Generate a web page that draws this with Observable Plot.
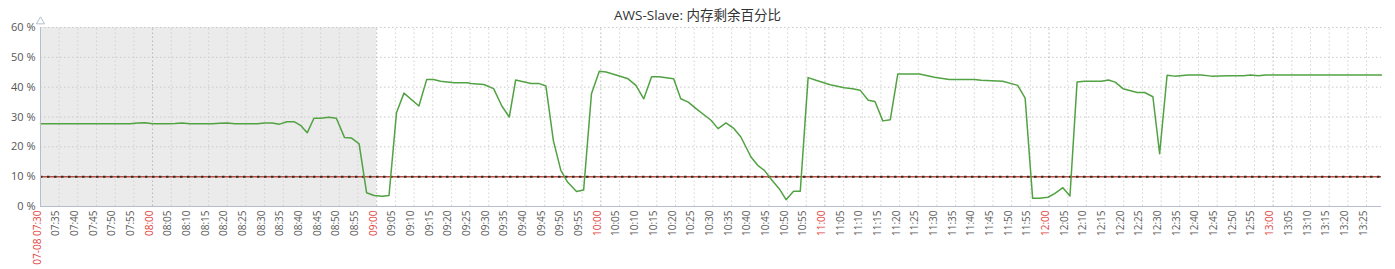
<!DOCTYPE html>
<html><head><meta charset="utf-8">
<script src="https://cdn.jsdelivr.net/npm/d3@7"></script>
<script src="https://cdn.jsdelivr.net/npm/@observablehq/plot@0.6"></script>
<style>
body{margin:0;background:#fff;}
#wrap{position:relative;width:1395px;height:269px;}
#title{position:absolute;top:4px;left:0;width:1395px;text-align:center;font:13.5px "Open Sans","Noto Sans CJK SC",sans-serif;color:#333;z-index:2;}
#chart{position:absolute;top:0;left:0;}
</style></head><body>
<div id="wrap"><div id="title">AWS-Slave: 内存剩余百分比</div><div id="chart"></div></div>
<script>
const titleText = "AWS-Slave: 内存剩余百分比";
const times = [
"07:30:00","07:32:00","07:34:00","07:36:00","07:38:00","07:40:00","07:42:00","07:44:00","07:46:00","07:48:00",
"07:50:00","07:52:00","07:54:00","07:56:00","07:58:00","08:00:00","08:02:00","08:04:00","08:06:00","08:08:00",
"08:10:00","08:12:00","08:14:00","08:16:00","08:18:00","08:20:00","08:22:00","08:24:00","08:26:00","08:28:00",
"08:30:00","08:32:00","08:34:00","08:36:00","08:38:00","08:39:36","08:41:24","08:43:12","08:45:00","08:47:12",
"08:49:12","08:51:24","08:53:12","08:55:18","08:57:18","08:59:18","09:01:30","09:03:18","09:05:18","09:07:18",
"09:11:18","09:13:24","09:15:12","09:17:06","09:20:42","09:24:18","09:25:12","09:28:42","09:31:18","09:33:30",
"09:35:30","09:37:12","09:41:18","09:43:30","09:45:18","09:47:18","09:49:18","09:51:06","09:53:30","09:55:24",
"09:57:30","09:59:36","10:01:24","10:05:24","10:07:18","10:09:24","10:11:30","10:13:36","10:15:36","10:19:30",
"10:21:24","10:23:24","10:25:30","10:29:30","10:31:24","10:33:30","10:35:30","10:37:30","10:40:12","10:42:00",
"10:43:48","10:45:30","10:47:48","10:49:36","10:51:36","10:53:24","10:55:30","10:57:36","11:01:24","11:05:12",
"11:07:24","11:09:24","11:11:36","11:13:24","11:15:30","11:17:30","11:19:30","11:25:18","11:29:18","11:33:18",
"11:40:00","11:41:48","11:47:36","11:51:36","11:53:36","11:55:36","11:57:24","11:59:42","12:01:30","12:03:42",
"12:05:36","12:07:30","12:09:30","12:14:00","12:15:54","12:17:42","12:19:48","12:23:36","12:25:36","12:27:48",
"12:29:36","12:31:36","12:33:36","12:37:12","12:40:48","12:43:24","12:48:00","12:52:00","12:54:00","12:56:00",
"12:58:00","13:10:00","13:29:00"
];
const values = [
27.7,27.7,27.7,27.7,27.7,27.7,27.7,27.7,27.7,27.7,
27.7,27.7,27.7,28.0,28.1,27.7,27.7,27.7,27.8,28.0,
27.7,27.7,27.7,27.7,27.9,28.0,27.7,27.7,27.7,27.7,
28.0,28.0,27.6,28.4,28.4,27.2,24.7,29.6,29.6,29.9,
29.6,23.1,23.0,21.0,4.6,3.7,3.4,3.7,31.4,38.0,
33.7,42.6,42.6,42.0,41.5,41.5,41.2,40.9,39.5,33.7,
30.0,42.4,41.2,41.2,40.4,22.1,12.1,8.2,5.0,5.5,
37.8,45.3,45.1,43.6,42.8,40.6,36.1,43.5,43.5,42.8,
36.1,35.0,32.8,28.9,26.1,28.0,26.3,23.3,16.6,13.8,
12.1,9.3,5.9,2.3,5.1,5.1,43.2,42.3,40.8,39.8,
39.5,39.0,35.6,35.2,28.7,29.1,44.4,44.4,43.3,42.6,
42.6,42.3,42.0,40.6,36.3,2.8,2.8,3.1,4.3,6.3,
3.5,41.7,42.0,42.0,42.4,41.7,39.5,38.2,38.2,36.8,
17.7,44.0,43.7,44.1,44.1,43.7,43.8,43.8,44.1,43.8,
44.1,44.1,44.1
];
const yTicks = [0, 10, 20, 30, 40, 50, 60];
const yTickLabels = ["0 %", "10 %", "20 %", "30 %", "40 %", "50 %", "60 %"];
const thresholds = [10];
const shadeStart = ["07:30:00"];
const shadeEnd = ["09:00:00"];
const xDomain = ["07:30:00", "13:29:00"];
const firstTickLabel = "07-08 07:30";

const parse = s => { const [h, m, sec] = s.split(":").map(Number); return new Date(Date.UTC(2000, 0, 8, h, m, sec)); };
const data = times.map((t, i) => ({t: parse(t), v: values[i]}));
const x0 = parse(xDomain[0]), x1 = parse(xDomain[1]);
const ticks = d3.utcMinute.every(5).range(x0, new Date(+x1 + 1));
const fmt = d3.utcFormat("%H:%M");
const tickText = ticks.map((d, i) => i === 0 ? firstTickLabel : fmt(d));
const isRed = (d, i) => i === 0 || d.getUTCMinutes() === 0;
const shade = shadeStart.map((s, i) => ({a: parse(s), b: parse(shadeEnd[i])}));
const axisColor = "#b3bfcd";

const chart = Plot.plot({
  width: 1395, height: 269,
  marginLeft: 40, marginRight: 14, marginTop: 27, marginBottom: 63,
  style: {fontFamily: '"Open Sans", "Noto Sans", sans-serif', background: "white"},
  x: {type: "utc", domain: [x0, x1], axis: null},
  y: {domain: [0, 60], axis: null},
  marks: [
    Plot.rect(shade, {x1: "a", x2: "b", y1: 0, y2: 60, fill: "#ebebeb"}),
    Plot.ruleY(yTicks.slice(1), {stroke: "#c8c8c8", strokeDasharray: "1.5,2.5", strokeWidth: 1}),
    Plot.ruleX(ticks.slice(1), {y1: 0, y2: 60, stroke: d => d.getUTCMinutes() === 0 ? "#b8b8b8" : "#d2d2d2", strokeDasharray: "1.5,2.5", strokeWidth: 1}),
    Plot.ruleY(thresholds, {stroke: "#b85040", strokeWidth: 1.5}),
    Plot.ruleY(thresholds, {stroke: "#3a2a2a", strokeWidth: 2, strokeDasharray: "2.5,4.5"}),
    Plot.line(data, {x: "t", y: "v", stroke: "#52a243", strokeWidth: 1.5}),
    Plot.ruleX([x0], {y1: 0, y2: 60, stroke: axisColor, strokeWidth: 1}),
    Plot.ruleY([0], {stroke: axisColor, strokeWidth: 1}),
    Plot.dot([x0], {x: d => d, frameAnchor: "top", dy: -6, symbol: "triangle", r: 3, stroke: axisColor, fill: "white", strokeWidth: 1}),
    Plot.text(yTicks, {x: x0, y: d => d, text: (d, i) => yTickLabels[i], textAnchor: "end", dx: -5, fontSize: 11, fill: "#555"}),
    Plot.text(ticks, {x: d => d, frameAnchor: "bottom", text: (d, i) => tickText[i], rotate: -90, textAnchor: "end", dy: 4, fontSize: 10, fill: (d, i) => isRed(d, i) ? "#e0453f" : "#5a5a5a"})
  ]
});
document.getElementById("chart").appendChild(chart);
</script>
</body></html>
